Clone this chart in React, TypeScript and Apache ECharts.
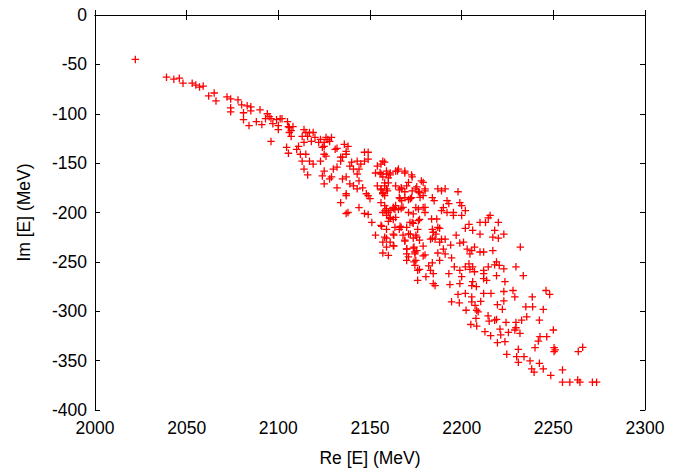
import React, { useEffect, useRef } from "react";
import * as echarts from "echarts";

// Re[E], Im[E] pole positions (MeV), grouped by region
const tailPoints: number[][] = [
  [2022,-45],[2039,-63],[2043,-65],[2046,-64],[2048,-69],[2053,-69],[2055,-71],[2057,-73],[2059,-72],[2062,-82],
  [2065,-79],[2066,-87],[2072,-83],[2074,-85],[2074,-94],[2074,-98],[2078,-86],[2080,-91],[2081,-99],[2081,-106],
  [2083,-92],[2084,-112],[2085,-93],[2085,-97],[2090,-96],[2088,-108],[2091,-111],[2094,-100],[2093,-105],[2095,-103],
  [2096,-105],[2097,-110],[2096,-128],[2100,-116],[2100,-112],[2102,-105],[2105,-108],[2105.5,-113],[2104.5,-134],[2105.5,-140],
  [2101,-105],[2099,-106],
];

const upperBandPoints: number[][] = [
  [2106,-114],[2107,-117],[2108,-113],[2106,-119],[2107,-123],[2110,-136],[2111,-133],[2113,-123],[2114,-116],[2115,-119],
  [2117,-119],[2116,-123],[2119,-119],[2118,-128],[2120,-124],[2114,-129],[2112,-141],[2113,-148],[2115,-141],[2117,-148],
  [2119,-151],[2123,-148],[2122,-129],[2123,-126],[2124,-134],[2125,-129],[2125,-141],[2126,-143],[2127,-126],[2129,-124],
  [2126,-124],[2128,-128],[2125,-133],[2114,-156],[2116,-162],[2124,-163],[2125,-171],[2125,-158],[2129,-164],[2128,-166],
  [2132,-175],[2130,-156],[2132,-154],[2131,-136],[2132,-135],[2134,-144],[2135,-144],[2136,-131],[2138,-133],[2137,-138],
  [2137,-141],[2134,-148],[2140,-149],[2139,-153],[2143,-148],[2141,-156],[2137,-164],[2135,-166],[2139,-171],[2143,-161],
  [2144,-156],[2147,-139],[2149,-139],[2147,-148],[2149,-146],[2145,-151],[2144,-168],[2143,-176],[2141,-173],[2137,-181],
  [2137,-183],[2134,-190],[2146,-175],[2148,-181],[2149,-183],[2150,-186],[2144,-195],[2137,-201],[2147,-201],[2149,-202],
  [2151,-210],[2154,-153],[2156,-151],[2157,-148],[2158,-149],[2153,-160],[2156,-161],[2159,-161],[2157,-164],[2160,-165],
  [2154,-173],[2156,-176],[2158,-173],[2159,-176],[2157,-181],[2158,-183],[2160,-170],[2161,-160],[2164,-158],[2165,-158],
  [2169,-158],[2173,-164],[2178,-168],[2164,-173],[2167,-175],[2170,-173],[2169,-185],[2166,-185],[2173,-178],[2175,-176],
  [2177,-180],[2179,-183],[2180,-176],[2172,-186],[2156,-190],[2158,-193],[2159,-196],[2157,-200],[2160,-200],[2159,-203],
  [2163,-196],[2164,-193],[2167,-196],[2175,-195],[2179,-195],[2180,-200],[2164,-205],[2161,-205],[2173,-210],[2177,-207],
  [2167,-215],[2170,-215],[2176,-217],[2153,-223],[2156,-213],[2159,-217],[2158,-225],[2157,-230],[2163,-223],[2163,-234],
  [2169,-228],[2174,-235],[2172,-222],[2175,-223],[2177,-228],[2157,-241],[2170,-242],[2174.5,-242],[2180,-243],[2179,-234],
  [2138,-200],[2161,-230],[2166,-217],[2170,-237],[2174.5,-240],[2175,-248.5],
];

const coreBandPoints: number[][] = [
  [2155.5,-159.5],[2159,-158],[2161,-162],[2158,-170],[2156,-177],[2159.5,-178],[2157,-180],[2165.5,-156],[2169,-160],[2172.7,-162],
  [2171,-169.6],[2167.3,-176],[2166,-177],[2169,-179],[2175.5,-174],[2179,-169.6],[2176.4,-179],[2180,-178],[2166.4,-186],[2167.3,-188],
  [2171,-187],[2172.7,-185],[2177.3,-184.7],[2162.7,-194.8],[2158.2,-198],[2161,-198],[2163.6,-197],[2165.5,-197],[2168,-194.8],[2171,-200],
  [2173.6,-201.5],[2176.4,-196.5],[2180,-194.8],[2161,-206],[2162.7,-207],[2160,-209],[2156.4,-214],[2163.6,-215],[2166.4,-214],[2171.8,-210],
  [2173.6,-211],[2176.4,-208.3],[2183.6,-206.6],[2186.4,-206.6],[2159,-226],[2162.7,-222],[2168,-223],[2169,-229],[2171,-221.7],[2173.6,-226],
  [2175.5,-225],[2162.7,-233.5],[2159,-235],[2173.6,-236],[2175.5,-238.5],[2170,-236.8],
];

const middleBandPoints: number[][] = [
  [2187,-176],[2191,-176],[2189,-178],[2184,-185],[2185,-188],[2192,-188],[2198,-179],[2193,-191],[2190,-195],[2199,-190],
  [2200,-193],[2189,-198],[2192,-200],[2195.5,-200],[2202,-198],[2200,-203],[2195.5,-203],[2215.5,-203],[2214.5,-205.5],[2220,-210],
  [2210,-210],[2213,-210],[2204,-212],[2202,-216],[2206,-218],[2210,-222],[2218,-218],[2217,-225],[2220,-226],[2223,-222],
  [2197,-223],[2184.5,-220],[2187,-215],[2188,-216],[2184,-217],[2186,-222],[2183,-227],[2184,-226],[2185.5,-227],[2189,-227],
  [2191,-227],[2188,-230],[2194,-233],[2190,-237],[2199,-231],[2201,-230],[2203,-237],[2205.5,-238.5],[2207,-235],[2210,-240],
  [2204.5,-242],[2212,-240],[2217,-238.5],[2232,-235],[2191,-242],[2194.5,-246],[2188,-248.5],[2184,-251],[2179,-244],[2174,-250],
  [2174.5,-253.6],[2182,-254],[2177,-257.6],[2183,-258.6],[2176,-258.6],[2184.5,-262],[2171,-245],[2170,-248.5],[2160,-243.5],[2196,-255],
  [2193,-262],[2199,-258.6],[2202,-255],[2204,-252],[2206,-255],[2204.5,-257.6],[2212,-258.6],[2212,-262],[2214.5,-255],[2219,-250],
  [2220.5,-253.6],[2218,-253],[2223,-257],[2229.6,-255],[2233.6,-264],[2219,-264],[2223.6,-270],[2213.6,-268.7],[2206,-270],[2199,-272],
  [2193.6,-273],[2184.5,-272],[2185.5,-274],[2180.5,-265],[2176,-268.7],[2208,-275],[2212,-267],[2198,-283],[2202,-282],[2205.5,-285.5],
  [2212,-282],[2216,-282],[2223,-280],[2228,-279],[2238.5,-285.5],[2246,-279],[2248,-283],[2187,-241],[2200,-265],[2205.5,-274],
  [2207,-260],
];

const lowerBandPoints: number[][] = [
  [2194.5,-290.5],[2198.7,-291.5],[2202.4,-299],[2205.5,-290.5],[2207.3,-294],[2208.2,-299],[2209,-300.6],[2207.8,-307.3],[2210.4,-290],[2219.5,-293.3],
  [2223,-289.6],[2222.2,-298],[2229,-285.5],[2235,-295.5],[2238.7,-295.5],[2244.5,-298.2],[2214.4,-304.6],[2218,-309],[2219,-308.3],[2224.2,-311.3],
  [2229.6,-311.3],[2232.7,-309],[2235.5,-305.6],[2242.4,-309],[2205,-313.4],[2208.2,-315],[2215,-310],[2212.7,-320.7],[2215.8,-324.7],[2220.9,-318],
  [2221.3,-324],[2225.5,-321.4],[2229.6,-316.7],[2229,-319],[2231.8,-322.4],[2219.5,-331.8],[2223.6,-330.8],[2224.6,-343.6],[2230.9,-338.6],[2230,-346],
  [2234,-346],[2230.9,-351.7],[2237.3,-350.3],[2240,-336.9],[2241.8,-330.2],[2242.7,-325.8],[2246.4,-325.8],[2250,-319],[2250.4,-336.9],[2250.4,-340.8],
  [2251,-339.2],[2242.4,-352.7],[2244.5,-358.4],[2238.2,-358.4],[2239.5,-361.7],[2248.6,-365],[2255,-359.4],[2255,-371.8],[2259,-371.8],[2264.5,-371.8],
  [2263.3,-369.5],[2271.3,-371.8],[2273.6,-371.8],[2263.6,-340.8],[2266,-336.5],
];

const xTicks = { min: 2000, max: 2300, interval: 50 };
const yTicks = { min: -400, max: 0, interval: 50 };

const FONT = "'Liberation Sans', Arial, Helvetica, sans-serif";
const PLUS = "path://M2.9,0H4.1V2.9H7V4.1H4.1V7H2.9V4.1H0V2.9H2.9Z";

export default function App() {
  const ref = useRef<HTMLDivElement>(null);
  useEffect(() => {
    if (!ref.current) return;
    const chart = echarts.init(ref.current, undefined, { renderer: "svg" });
    const axisLine = { show: true, lineStyle: { color: "#000", width: 1 } };
    const tick = { show: true, inside: true, length: 5, lineStyle: { color: "#000", width: 1 } };
    const label = { color: "#000", fontSize: 17.5, fontFamily: FONT, formatter: (v: number) => String(v) };
    const allPoints = [...tailPoints, ...upperBandPoints, ...coreBandPoints, ...middleBandPoints, ...lowerBandPoints];
    chart.setOption({
      animation: false,
      backgroundColor: "#fff",
      grid: { left: 95, right: 38, top: 15, bottom: 60, containLabel: false },
      xAxis: [
        {
          type: "value", ...xTicks, position: "bottom",
          name: "Re [E] (MeV)", nameLocation: "middle", nameGap: 39,
          nameTextStyle: { color: "#000", fontSize: 17.5, fontFamily: FONT },
          axisLine, axisTick: tick, splitLine: { show: false },
          axisLabel: { ...label, margin: 9 },
        },
        {
          type: "value", ...xTicks, position: "top",
          axisLine, axisTick: tick, splitLine: { show: false },
          axisLabel: { show: false },
        },
      ],
      yAxis: [
        {
          type: "value", ...yTicks, position: "left",
          name: "Im [E] (MeV)", nameLocation: "middle", nameGap: 62,
          nameTextStyle: { color: "#000", fontSize: 17.5, fontFamily: FONT },
          axisLine, axisTick: tick, splitLine: { show: false },
          axisLabel: { ...label, margin: 8 },
        },
        {
          type: "value", ...yTicks, position: "right",
          axisLine, axisTick: tick, splitLine: { show: false },
          axisLabel: { show: false },
        },
      ],
      series: [
        {
          type: "scatter",
          xAxisIndex: 0,
          yAxisIndex: 0,
          data: allPoints,
          symbol: PLUS,
          symbolSize: 7.5,
          itemStyle: { color: "#ff0000", opacity: 1 },
          emphasis: { disabled: true },
        },
      ],
    });
    return () => chart.dispose();
  }, []);
  return <div ref={ref} style={{ width: 683, height: 472, position: "absolute", left: 0, top: 0 }} />;
}
